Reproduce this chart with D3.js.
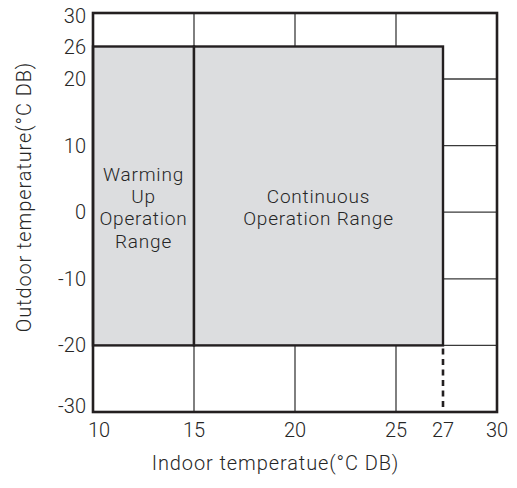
<!DOCTYPE html>
<html>
<head>
<meta charset="utf-8">
<script src="https://cdn.jsdelivr.net/npm/d3@7"></script>
<style>
  html, body { margin: 0; padding: 0; background: #fff; }
  svg { display: block; }
  text { font-family: Roboto, "Noto Sans", sans-serif; font-weight: 300; fill: #262626; }
</style>
</head>
<body>
<svg id="chart" width="517" height="488"></svg>
<script>
// Axis ticks (°C DB)
const xTicks = [10, 15, 20, 25, 27, 30];
const yTicks = [-30, -20, -10, 0, 10, 20, 26, 30];

// Thin grid lines
const gridX = [15, 20, 25];
const gridY = [-20, -10, 0, 10, 20];

// Operation ranges: indoor span [x0, x1], outdoor span [y0, y1]
const ranges = [
  { x0: 10, x1: 15, y0: -20, y1: 26, lines: ["Warming", "Up", "Operation", "Range"] },
  { x0: 15, x1: 27, y0: -20, y1: 26, lines: ["Continuous", "Operation Range"] }
];

// Indoor limit continued below the range as a dashed line
const dashedLimit = { x: 27, y0: -30, y1: -20 };

const xTitle = "Indoor temperatue(°C DB)";
const yTitle = "Outdoor temperature(°C DB)";

const svg = d3.select("#chart");
const ink = "#231f20";

// Schematic (piecewise) scales
const x = d3.scaleLinear().domain([10, 25, 27, 30]).range([93, 396, 443, 497]);
const y = d3.scaleLinear().domain([-30, 20, 26, 30]).range([412, 79, 46.5, 13]);

const [xMin, xMax] = [x(10), x(30)];
const [yMin, yMax] = [y(30), y(-30)];

// grid
svg.append("g").selectAll("line").data(gridY).join("line")
  .attr("x1", xMin).attr("x2", xMax)
  .attr("y1", d => y(d)).attr("y2", d => y(d))
  .attr("stroke", "#3a3a3a").attr("stroke-width", 1.3);
svg.append("g").selectAll("line").data(gridX).join("line")
  .attr("x1", d => x(d)).attr("x2", d => x(d))
  .attr("y1", yMin).attr("y2", yMax)
  .attr("stroke", "#2a2a2a").attr("stroke-width", 1.2);

// ranges
svg.append("g").selectAll("rect").data(ranges).join("rect")
  .attr("x", d => x(d.x0)).attr("y", d => y(d.y1))
  .attr("width", d => x(d.x1) - x(d.x0))
  .attr("height", d => y(d.y0) - y(d.y1))
  .attr("fill", "#dcdddf")
  .attr("stroke", ink).attr("stroke-width", 2.4);

// range labels
const lh = 22.3;
ranges.forEach(r => {
  const cx = (x(r.x0) + x(r.x1)) / 2;
  const cy = y(0) - 5;
  const n = r.lines.length;
  svg.append("text")
    .attr("text-anchor", "middle")
    .attr("font-size", 19)
    .attr("letter-spacing", 0.8)
    .selectAll("tspan").data(r.lines).join("tspan")
    .attr("x", cx)
    .attr("y", (d, i) => cy - (n - 1) / 2 * lh + i * lh + 7)
    .text(d => d);
});

// dashed limit
svg.append("line")
  .attr("x1", x(dashedLimit.x)).attr("x2", x(dashedLimit.x))
  .attr("y1", y(dashedLimit.y1) + 3).attr("y2", y(dashedLimit.y0))
  .attr("stroke", ink).attr("stroke-width", 2.6)
  .attr("stroke-dasharray", "6,4.5");

// frame
svg.append("rect")
  .attr("x", xMin).attr("y", yMin)
  .attr("width", xMax - xMin).attr("height", yMax - yMin)
  .attr("fill", "none").attr("stroke", ink).attr("stroke-width", 2.6);

// x tick labels
svg.append("g").selectAll("text").data(xTicks).join("text")
  .attr("x", d => Math.max(x(d), xMin + 6))
  .attr("y", 437)
  .attr("text-anchor", "middle")
  .attr("font-size", 20)
  .text(d => d);

// y tick labels
svg.append("g").selectAll("text").data(yTicks).join("text")
  .attr("x", 86)
  .attr("y", d => Math.min(Math.max(y(d), yMin + 3), yMax - 6))
  .attr("dy", "0.35em")
  .attr("text-anchor", "end")
  .attr("font-size", 20)
  .text(d => d);

// axis titles
svg.append("text")
  .attr("x", 275.5).attr("y", 470)
  .attr("text-anchor", "middle")
  .attr("font-size", 20)
  .attr("letter-spacing", 0.9)
  .text(xTitle);

svg.append("text")
  .attr("transform", "translate(31,197) rotate(-90)")
  .attr("text-anchor", "middle")
  .attr("font-size", 20)
  .attr("letter-spacing", 0.9)
  .text(yTitle);
</script>
</body>
</html>
